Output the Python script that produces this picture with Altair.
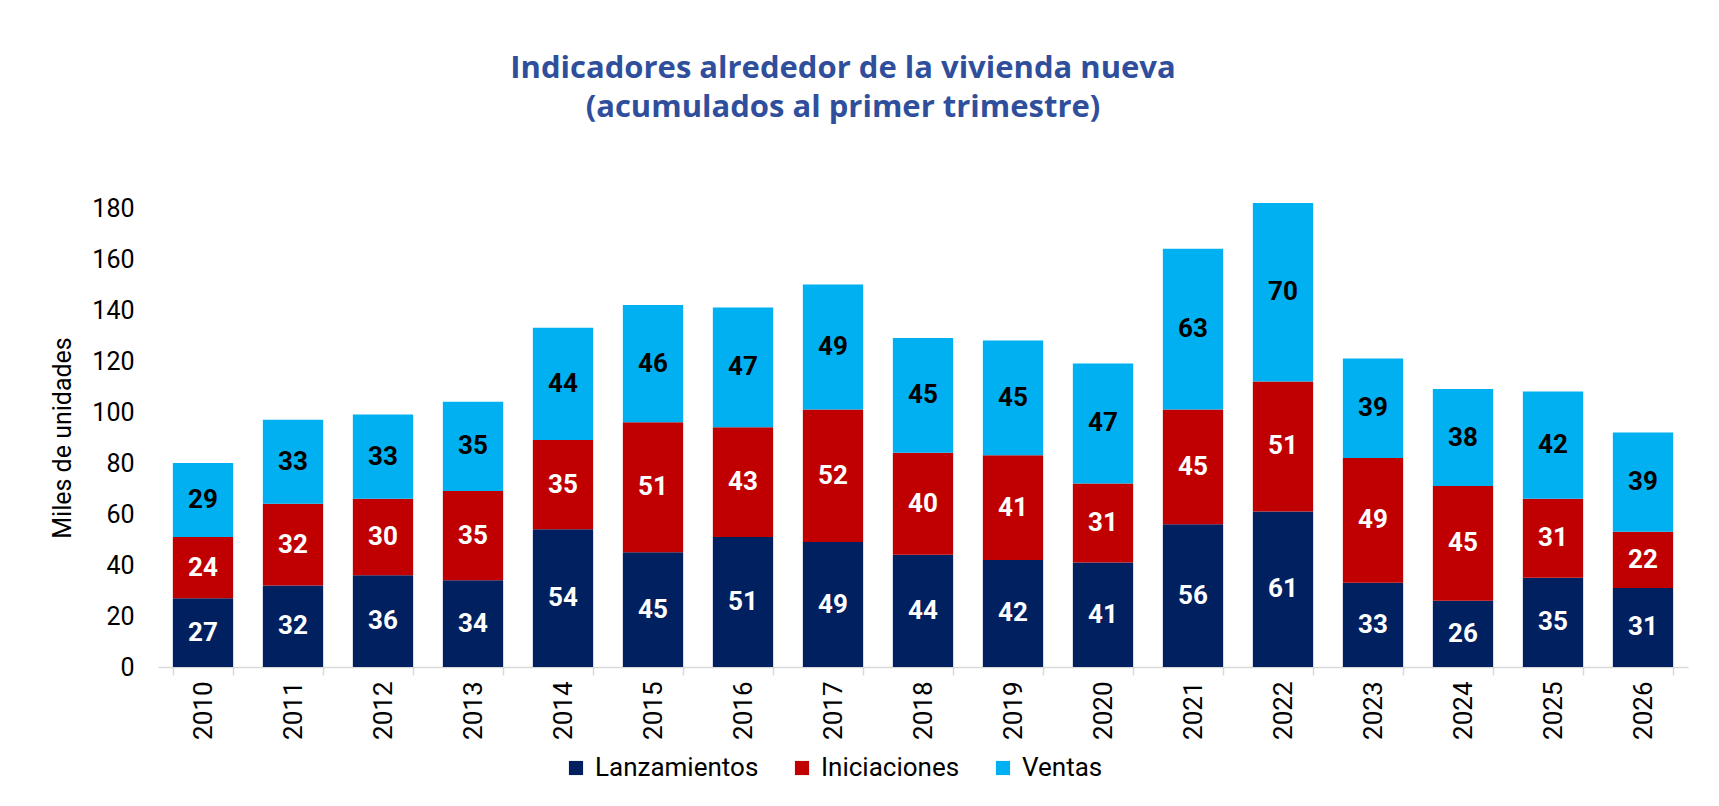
import altair as alt
import pandas as pd

years = [str(y) for y in range(2010, 2027)]
lanzamientos = [27, 32, 36, 34, 54, 45, 51, 49, 44, 42, 41, 56, 61, 33, 26, 35, 31]
iniciaciones = [24, 32, 30, 35, 35, 51, 43, 52, 40, 41, 31, 45, 51, 49, 45, 31, 22]
ventas = [29, 33, 33, 35, 44, 46, 47, 49, 45, 45, 47, 63, 70, 39, 38, 42, 39]

series = ["Lanzamientos", "Iniciaciones", "Ventas"]
colors = ["#002060", "#C00000", "#00B0F0"]
y_ticks = [0, 20, 40, 60, 80, 100, 120, 140, 160, 180]

rows = []
for i, yr in enumerate(years):
    for k, (name, vals) in enumerate(zip(series, [lanzamientos, iniciaciones, ventas])):
        rows.append({"anio": yr, "serie": name, "valor": vals[i], "orden": k})
df = pd.DataFrame(rows)

FONT = "Roboto"

x_enc = alt.X(
    "anio:N",
    title=None,
    sort=years,
    scale=alt.Scale(paddingInner=0.33, paddingOuter=0.165),
    axis=alt.Axis(
        labelAngle=270,
        labelAlign="right",
        labelBaseline="middle",
        labelFontSize=26,
        labelFont=FONT,
        labelColor="#000000",
        labelPadding=6,
        domainColor="#D9D9D9",
        domainWidth=1.5,
        tickColor="#D9D9D9",
        tickWidth=1.5,
        tickSize=8,
        tickBand="extent",
        grid=False,
    ),
)

base = alt.Chart(df).transform_stack(
    stack="valor",
    groupby=["anio"],
    as_=["y0", "y1"],
    sort=[alt.SortField("orden", order="ascending")],
).transform_calculate(mid="(datum.y0 + datum.y1) / 2")

bars = base.mark_bar(strokeWidth=0).encode(
    x=x_enc,
    y=alt.Y(
        "y0:Q",
        title="Miles de unidades",
        scale=alt.Scale(domain=[0, 180], nice=False),
        axis=alt.Axis(
            values=y_ticks,
            labelFontSize=25,
            labelFont=FONT,
            labelColor="#000000",
            labelPadding=24,
            ticks=False,
            domain=False,
            grid=False,
            titleFont=FONT,
            titleFontSize=25,
            titleFontWeight="normal",
            titleColor="#000000",
            titlePadding=16,
        ),
    ),
    y2="y1:Q",
    color=alt.Color(
        "serie:N",
        scale=alt.Scale(domain=series, range=colors),
        sort=series,
        legend=alt.Legend(
            title=None,
            orient="none",
            direction="horizontal",
            legendX=405,
            legendY=547,
            symbolType="square",
            symbolSize=200,
            symbolStrokeWidth=0,
            labelFont=FONT,
            labelFontSize=26,
            labelColor="#000000",
            labelOffset=6,
            labelLimit=400,
            columnPadding=30,
        ),
    ),
)

labels = base.mark_text(
    font=FONT, fontSize=26, fontWeight="bold", baseline="middle", align="center"
).encode(
    x=alt.X("anio:N", sort=years),
    y=alt.Y("mid:Q"),
    text=alt.Text("valor:Q"),
    color=alt.condition(
        "datum.serie == 'Ventas'", alt.value("#000000"), alt.value("#FFFFFF")
    ),
)

chart = (
    alt.layer(bars, labels)
    .properties(
        width=1530,
        height=459,
        autosize=alt.AutoSizeParams(type="none"),
        padding={"left": 158, "top": 208, "right": 31, "bottom": 139},
        view=alt.ViewBackground(stroke="transparent", strokeWidth=0),
        title=alt.TitleParams(
            text=[
                "Indicadores alrededor de la vivienda nueva",
                "(acumulados al primer trimestre)",
            ],
            font="Open Sans",
            fontSize=31,
            fontWeight="bold",
            color="#2F4F9C",
            anchor="middle",
            dx=-80,
            offset=72,
            lineHeight=39,
        ),
    )
    .configure_view(strokeWidth=0, stroke="transparent")
    .configure(background="#FFFFFF")
)

chart.save("out.html", embed_options={"renderer": "svg", "actions": False})
